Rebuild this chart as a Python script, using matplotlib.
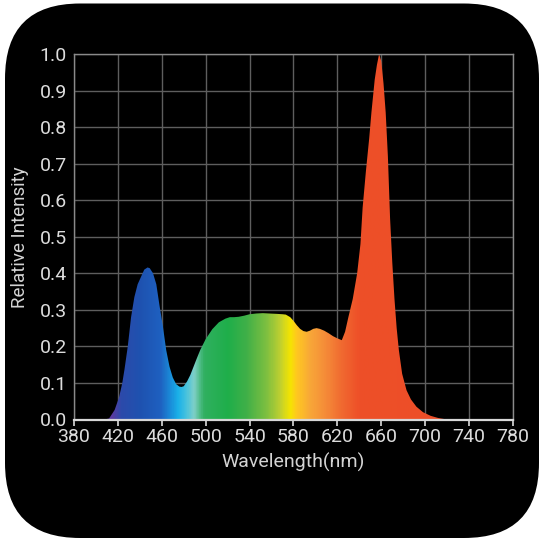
import numpy as np
import matplotlib
matplotlib.use("Agg")
import matplotlib.pyplot as plt
from matplotlib.colors import LinearSegmentedColormap
from matplotlib.patches import FancyBboxPatch, Polygon

# Spectrum (nm, relative intensity)
wavelength = [408, 412, 417, 421, 424, 426, 429, 432, 435, 438, 441, 444, 447, 449,
              452, 455, 458, 461, 464, 467, 470, 473, 476, 478, 480, 483, 486, 489,
              492, 495, 500, 506, 512, 518, 522, 526, 530, 535, 540, 546, 552, 558,
              565, 570, 573, 577, 580, 583, 586, 589, 592, 595, 598, 601, 604, 608,
              612, 616, 620, 624, 627, 630, 634, 638, 641, 643, 646, 649, 651, 654,
              656, 658, 660, 662, 664, 666, 668, 670, 672, 674, 676, 679, 683, 687,
              692, 698, 705, 712, 720]
intensity = [0.0, 0.003, 0.026, 0.06, 0.1, 0.137, 0.2, 0.28, 0.335, 0.37, 0.39, 0.41, 0.416, 0.414,
             0.4, 0.37, 0.31, 0.255, 0.19, 0.145, 0.115, 0.097, 0.09, 0.089, 0.091, 0.104, 0.122, 0.145,
             0.168, 0.19, 0.22, 0.247, 0.266, 0.276, 0.28, 0.28, 0.281, 0.284, 0.288, 0.29, 0.291, 0.29,
             0.289, 0.288, 0.287, 0.28, 0.27, 0.258, 0.248, 0.242, 0.24, 0.243, 0.248, 0.25, 0.248, 0.243,
             0.236, 0.228, 0.222, 0.217, 0.24, 0.28, 0.33, 0.40, 0.48, 0.58, 0.68, 0.77, 0.84, 0.93,
             0.97, 1.0, 0.98, 0.92, 0.84, 0.72, 0.55, 0.43, 0.33, 0.25, 0.19, 0.125, 0.08, 0.055,
             0.035, 0.02, 0.01, 0.004, 0.0]

# colour stops of the spectrum fill (nm, colour)
stop_nm = [380, 414, 422, 440, 458, 467, 474, 481, 489, 498, 520, 537, 556, 568, 577, 583,
           595, 610, 625, 640, 780]
stop_col = ['#5a3aa0', '#5a3aa0', '#2c4aaa', '#1e52b0', '#1f60c0', '#1a8ad8', '#1ab0e8',
            '#40c0e0', '#80d0c8', '#30b060', '#1fae4a', '#40b048', '#80c040', '#c0d030',
            '#f5e500', '#ffc820', '#f8a838', '#f58a38', '#f06830', '#ee5028', '#ec4c28']

x_ticks = np.arange(380, 781, 40)
y_ticks = np.arange(0, 1.01, 0.1)

plt.rcParams['font.family'] = ['Roboto', 'DejaVu Sans']

fig = plt.figure(figsize=(5.43, 5.40), dpi=100, facecolor='white')
bg = FancyBboxPatch((0.05, 0.02), 5.34, 5.345, boxstyle='round,pad=0,rounding_size=0.75',
                    transform=fig.dpi_scale_trans, facecolor='black', edgecolor='none', zorder=-5)
fig.patches.append(bg)

ax = fig.add_axes([74 / 543, 1 - 419.5 / 540, 439 / 543, 365.5 / 540])
ax.set_facecolor('black')

lo, hi = x_ticks[0], x_ticks[-1]
cmap = LinearSegmentedColormap.from_list(
    'spec', [((n - lo) / (hi - lo), c) for n, c in zip(stop_nm, stop_col)])
grad = np.linspace(lo, hi, 800).reshape(1, -1)
img = ax.imshow(grad, cmap=cmap, vmin=lo, vmax=hi, extent=[lo, hi, 0, 1],
                aspect='auto', origin='lower', zorder=2, interpolation='bilinear')
poly = Polygon(np.column_stack([wavelength, intensity]), closed=True,
               facecolor='none', edgecolor='none', transform=ax.transData)
ax.add_patch(poly)
img.set_clip_path(poly)

ax.set_xlim(lo, hi)
ax.set_ylim(0, 1.0)
ax.set_xticks(x_ticks)
ax.set_yticks(y_ticks)
ax.set_yticklabels([f'{v:.1f}' for v in y_ticks])
ax.grid(True, color='#5e5e5e', linewidth=1.0, zorder=1)
ax.set_axisbelow(True)

for side in ['top', 'right', 'left']:
    ax.spines[side].set_color('#8a8a8a')
    ax.spines[side].set_linewidth(1.0)
ax.spines['bottom'].set_color('#d8d8d8')
ax.spines['bottom'].set_linewidth(1.6)
ax.spines['bottom'].set_zorder(3)

ax.tick_params(axis='x', colors='#dcdcdc', labelsize=14, length=4, width=1.2, pad=2)
ax.tick_params(axis='y', colors='#dcdcdc', labelsize=14, length=0, pad=5)

ax.set_xlabel('Wavelength(nm)', color='#d4d4d4', fontsize=14, labelpad=5)
ax.set_ylabel('Relative Intensity', color='#d4d4d4', fontsize=13.5, labelpad=8)

fig.savefig('out.png', dpi=100, facecolor='white')
